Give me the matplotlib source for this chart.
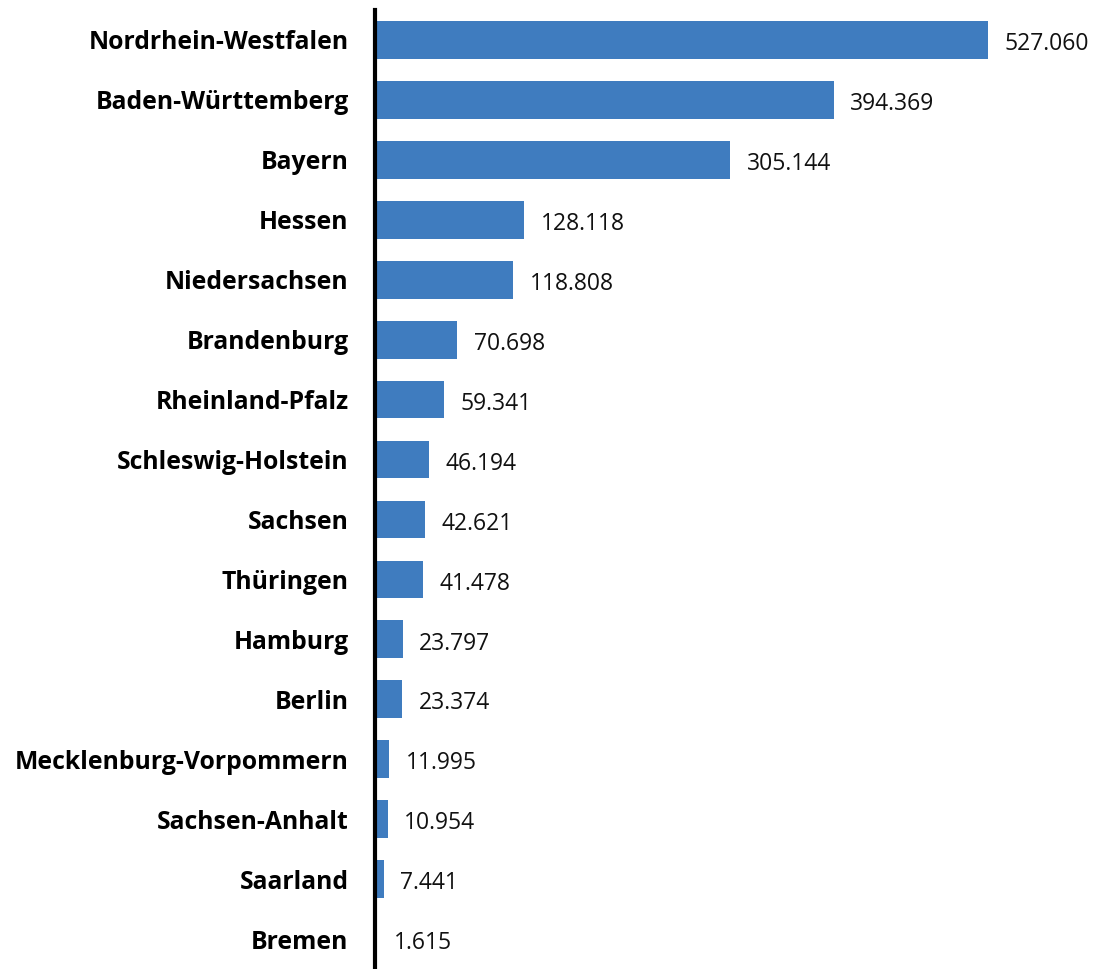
import matplotlib.pyplot as plt

states = ['Nordrhein-Westfalen', 'Baden-Württemberg', 'Bayern', 'Hessen',
          'Niedersachsen', 'Brandenburg', 'Rheinland-Pfalz', 'Schleswig-Holstein',
          'Sachsen', 'Thüringen', 'Hamburg', 'Berlin', 'Mecklenburg-Vorpommern',
          'Sachsen-Anhalt', 'Saarland', 'Bremen']
values = [527060, 394369, 305144, 128118, 118808, 70698, 59341, 46194,
          42621, 41478, 23797, 23374, 11995, 10954, 7441, 1615]

plt.rcParams['font.family'] = ['Open Sans', 'DejaVu Sans']

fig = plt.figure(figsize=(10.98, 9.69), dpi=100)
ax = fig.add_axes([375 / 1098, 0, 1 - 375 / 1098, 959 / 969])

y = range(len(states))
ax.barh(y, values, height=0.63, color='#3F7CBF')

for i, v in enumerate(values):
    label = f'{v:,}'.replace(',', '.')
    ax.annotate(label, (v, i), xytext=(12, -3), textcoords='offset points',
                va='center', ha='left', fontsize=16.5, color='#111111')

ax.set_yticks(list(y))
ax.set_yticklabels(states, fontsize=17.8, fontweight='bold')
ax.tick_params(axis='y', length=0, pad=19)
ax.set_xticks([])
ax.set_ylim(15.5, -0.5)
ax.set_xlim(0, 621640)

for side in ['top', 'right', 'bottom']:
    ax.spines[side].set_visible(False)
ax.spines['left'].set_linewidth(3)
ax.spines['left'].set_color('black')

fig.savefig('out.png', dpi=100)
